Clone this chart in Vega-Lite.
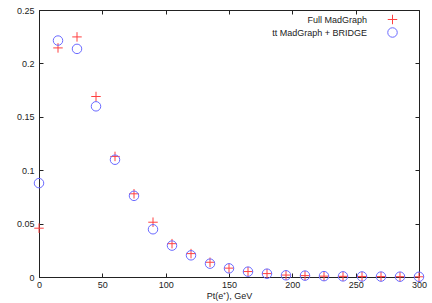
{
  "$schema": "https://vega.github.io/schema/vega-lite/v6.json",
  "width": 380,
  "height": 267,
  "autosize": {"type": "none"},
  "padding": {"left": 39, "top": 10, "right": 13, "bottom": 26},
  "background": "white",
  "config": {
    "font": "Liberation Sans",
    "view": {"stroke": "#222", "strokeWidth": 1},
    "axis": {
      "domainColor": "#222",
      "tickColor": "#222",
      "labelColor": "#222",
      "titleColor": "#222",
      "labelFont": "Liberation Sans",
      "titleFont": "Liberation Sans",
      "labelFontSize": 9,
      "titleFontSize": 9,
      "titleFontWeight": "normal",
      "grid": false,
      "tickSize": -4
    },
    "legend": {
      "orient": "none", "legendX": 348, "legendY": 4,
      "labelAlign": "right", "labelOffset": -31, "labelFontSize": 9, "labelColor": "#222",
      "labelFont": "Liberation Sans",
      "rowPadding": -4, "symbolStrokeWidth": 1, "symbolSize": 90, "padding": 0
    }
  },
  "data": {
    "values": [
      {"series": "Full MadGraph", "pt": 0, "value": 0.0457},
      {"series": "Full MadGraph", "pt": 15, "value": 0.2145},
      {"series": "Full MadGraph", "pt": 30, "value": 0.2248},
      {"series": "Full MadGraph", "pt": 45, "value": 0.169},
      {"series": "Full MadGraph", "pt": 60, "value": 0.1129},
      {"series": "Full MadGraph", "pt": 75, "value": 0.0779},
      {"series": "Full MadGraph", "pt": 90, "value": 0.0513},
      {"series": "Full MadGraph", "pt": 105, "value": 0.0312},
      {"series": "Full MadGraph", "pt": 120, "value": 0.0219},
      {"series": "Full MadGraph", "pt": 135, "value": 0.0138},
      {"series": "Full MadGraph", "pt": 150, "value": 0.0083},
      {"series": "Full MadGraph", "pt": 165, "value": 0.0051},
      {"series": "Full MadGraph", "pt": 180, "value": 0.0032},
      {"series": "Full MadGraph", "pt": 195, "value": 0.0018},
      {"series": "Full MadGraph", "pt": 210, "value": 0.0013},
      {"series": "Full MadGraph", "pt": 225, "value": 0.0008},
      {"series": "Full MadGraph", "pt": 240, "value": 0.0006},
      {"series": "Full MadGraph", "pt": 255, "value": 0.0005},
      {"series": "Full MadGraph", "pt": 270, "value": 0.0004},
      {"series": "Full MadGraph", "pt": 285, "value": 0.0003},
      {"series": "Full MadGraph", "pt": 300, "value": 0.0002},
      {"series": "tt MadGraph + BRIDGE", "pt": 0, "value": 0.0879},
      {"series": "tt MadGraph + BRIDGE", "pt": 15, "value": 0.2214},
      {"series": "tt MadGraph + BRIDGE", "pt": 30, "value": 0.2136},
      {"series": "tt MadGraph + BRIDGE", "pt": 45, "value": 0.1598},
      {"series": "tt MadGraph + BRIDGE", "pt": 60, "value": 0.1098},
      {"series": "tt MadGraph + BRIDGE", "pt": 75, "value": 0.076},
      {"series": "tt MadGraph + BRIDGE", "pt": 90, "value": 0.0447},
      {"series": "tt MadGraph + BRIDGE", "pt": 105, "value": 0.0294},
      {"series": "tt MadGraph + BRIDGE", "pt": 120, "value": 0.0203},
      {"series": "tt MadGraph + BRIDGE", "pt": 135, "value": 0.0125},
      {"series": "tt MadGraph + BRIDGE", "pt": 150, "value": 0.0081},
      {"series": "tt MadGraph + BRIDGE", "pt": 165, "value": 0.005},
      {"series": "tt MadGraph + BRIDGE", "pt": 180, "value": 0.0031},
      {"series": "tt MadGraph + BRIDGE", "pt": 195, "value": 0.0016},
      {"series": "tt MadGraph + BRIDGE", "pt": 210, "value": 0.0013},
      {"series": "tt MadGraph + BRIDGE", "pt": 225, "value": 0.0008},
      {"series": "tt MadGraph + BRIDGE", "pt": 240, "value": 0.0006},
      {"series": "tt MadGraph + BRIDGE", "pt": 255, "value": 0.0005},
      {"series": "tt MadGraph + BRIDGE", "pt": 270, "value": 0.0004},
      {"series": "tt MadGraph + BRIDGE", "pt": 285, "value": 0.0003},
      {"series": "tt MadGraph + BRIDGE", "pt": 300, "value": 0.0002}
    ]
  },
  "layer": [
    {
      "mark": {"type": "point", "filled": false, "strokeWidth": 1, "opacity": 1, "clip": false},
      "encoding": {
        "x": {
          "field": "pt", "type": "quantitative",
          "scale": {"domain": [0, 300], "nice": false, "zero": false},
          "axis": {"values": [0, 50, 100, 150, 200, 250, 300], "title": "Pt(e⁺), GeV", "labelPadding": 7, "titlePadding": 2, "labelFlush": false}
        },
        "y": {
          "field": "value", "type": "quantitative",
          "scale": {"domain": [0, 0.25], "nice": false, "zero": false},
          "axis": {"values": [0, 0.05, 0.1, 0.15, 0.2, 0.25], "title": null, "labelPadding": 9, "labelFlush": false, "labelExpr": "datum.value == 0 ? '0' : format(datum.value, '.2~f')"}
        },
        "shape": {
          "field": "series", "type": "nominal",
          "scale": {"domain": ["Full MadGraph", "tt MadGraph + BRIDGE"], "range": ["M-1,0L1,0M0,-1L0,1", "circle"]},
          "legend": {"title": null, "encode": {"symbols": {"update": {"stroke": {"scale": "color", "field": "value"}, "fill": {"value": "transparent"}}}}}
        },
        "color": {
          "field": "series", "type": "nominal",
          "scale": {"domain": ["Full MadGraph", "tt MadGraph + BRIDGE"], "range": ["#ff4040", "#6a6aff"]},
          "legend": {"title": null, "encode": {"symbols": {"update": {"stroke": {"scale": "color", "field": "value"}, "fill": {"value": "transparent"}}}}}
        },
        "size": {"value": 90}
      }
    },
    {
      "mark": {"type": "point", "opacity": 0},
      "encoding": {
        "x": {
          "field": "pt", "type": "quantitative",
          "scale": {"domain": [0, 300], "nice": false, "zero": false},
          "axis": {"orient": "top", "values": [0, 50, 100, 150, 200, 250, 300], "labels": false, "title": null, "domain": false}
        },
        "y": {
          "field": "value", "type": "quantitative",
          "scale": {"domain": [0, 0.25], "nice": false, "zero": false},
          "axis": {"orient": "right", "values": [0, 0.05, 0.1, 0.15, 0.2, 0.25], "labels": false, "title": null, "domain": false}
        }
      }
    }
  ],
  "resolve": {"axis": {"x": "independent", "y": "independent"}}
}
